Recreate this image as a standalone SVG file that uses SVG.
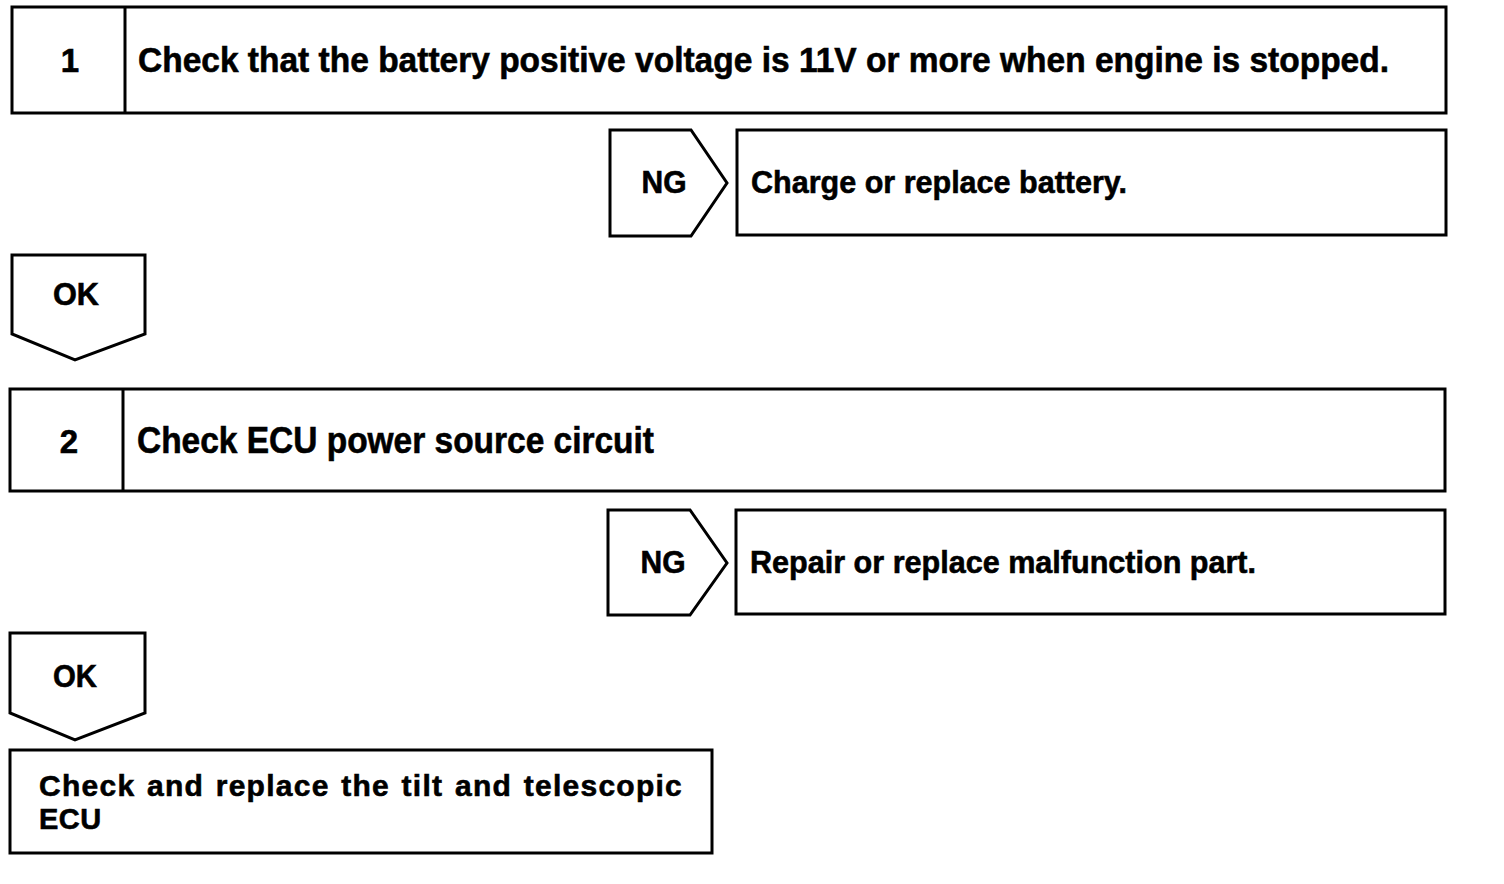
<svg xmlns="http://www.w3.org/2000/svg" width="1504" height="884" viewBox="0 0 1504 884">
<style>
.b{fill:#fff;stroke:#000;stroke-width:3;stroke-linejoin:miter}
.t{font-family:"Liberation Sans",Arial,sans-serif;font-weight:bold;fill:#000;stroke:#000;stroke-width:0.6}
.c{text-anchor:middle}
</style>
<rect width="1504" height="884" fill="#fff"/>
<g id="step1">
<rect class="b" x="12" y="7" width="1434" height="106"/>
<line x1="125" y1="7" x2="125" y2="113" stroke="#000" stroke-width="3"/>
<text class="t c" x="70" y="72" font-size="33">1</text>
<text class="t" x="138" y="72" font-size="35" textLength="1251" lengthAdjust="spacingAndGlyphs">Check that the battery positive voltage is 11V or more when engine is stopped.</text>
</g>
<g id="ng1">
<polygon class="b" points="610,130 691,130 727,183 691,236 610,236"/>
<text class="t c" x="664" y="193" font-size="31" textLength="45" lengthAdjust="spacingAndGlyphs">NG</text>
</g>
<g id="action1">
<rect class="b" x="737" y="130" width="709" height="105"/>
<text class="t" x="751" y="193" font-size="32" textLength="376" lengthAdjust="spacingAndGlyphs">Charge or replace battery.</text>
</g>
<g id="ok1">
<polygon class="b" points="12,255 145,255 145,334 75,360 12,334"/>
<text class="t c" x="76" y="305" font-size="31" textLength="46" lengthAdjust="spacingAndGlyphs">OK</text>
</g>
<g id="step2">
<rect class="b" x="10" y="389" width="1435" height="102"/>
<line x1="123" y1="389" x2="123" y2="491" stroke="#000" stroke-width="3"/>
<text class="t c" x="69" y="453" font-size="33">2</text>
<text class="t" x="137" y="453" font-size="36" textLength="517" lengthAdjust="spacingAndGlyphs">Check ECU power source circuit</text>
</g>
<g id="ng2">
<polygon class="b" points="608,510 690,510 727,563 690,615 608,615"/>
<text class="t c" x="663" y="573" font-size="31" textLength="45" lengthAdjust="spacingAndGlyphs">NG</text>
</g>
<g id="action2">
<rect class="b" x="736" y="510" width="709" height="104"/>
<text class="t" x="750" y="573" font-size="32" textLength="506" lengthAdjust="spacingAndGlyphs">Repair or replace malfunction part.</text>
</g>
<g id="ok2">
<polygon class="b" points="10,633 145,633 145,713 75,740 10,713"/>
<text class="t c" x="75" y="687" font-size="31" textLength="44" lengthAdjust="spacingAndGlyphs">OK</text>
</g>
<g id="final">
<rect class="b" x="10" y="750" width="702" height="103"/>
<text class="t" x="39" y="796" font-size="30" letter-spacing="1.2" word-spacing="2" textLength="644" lengthAdjust="spacing">Check and replace the tilt and telescopic</text>
<text class="t" x="39" y="829" font-size="29" letter-spacing="0.5">ECU</text>
</g>
<g id="connectors"></g>
</svg>
